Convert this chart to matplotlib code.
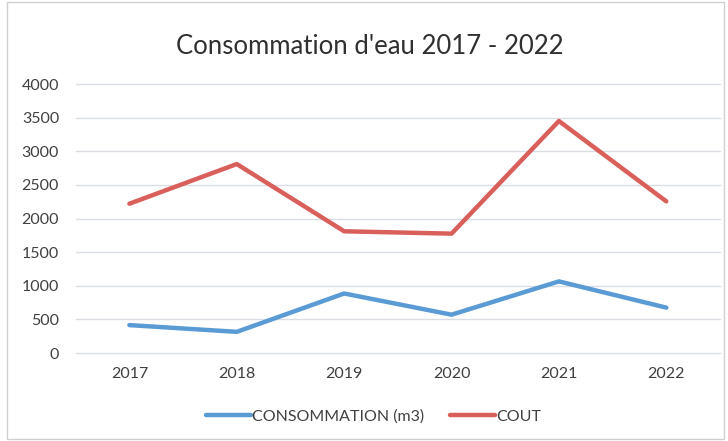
import matplotlib.pyplot as plt
import matplotlib.patches as patches

plt.rcParams['font.family'] = ['Lato', 'DejaVu Sans']

years = ['2017', '2018', '2019', '2020', '2021', '2022']
consommation = [415, 315, 885, 570, 1065, 675]
cout = [2220, 2810, 1810, 1775, 3450, 2255]
y_ticks = [0, 500, 1000, 1500, 2000, 2500, 3000, 3500, 4000]

fig = plt.figure(figsize=(7.28, 4.41), dpi=100)
ax = fig.add_axes([0.104, 0.1995, 0.885, 0.61])

x = range(len(years))
ax.plot(x, consommation, color='#5B9BD5', linewidth=3.2, label='CONSOMMATION (m3)',
        solid_capstyle='round')
ax.plot(x, cout, color='#D9605A', linewidth=3.2, label='COUT', solid_capstyle='round')

ax.set_xlim(-0.5, len(years) - 0.5)
ax.set_ylim(0, 4000)
ax.set_yticks(y_ticks)
ax.set_xticks(list(x))
ax.set_xticklabels(years)
ax.tick_params(axis='both', length=0, labelsize=11.5, colors='#404040')
ax.tick_params(axis='x', pad=10)
ax.tick_params(axis='y', pad=12)
ax.grid(axis='y', color='#D9DDE3', linewidth=1)
for gl in ax.get_ygridlines():
    gl.set_clip_on(False)
ax.set_axisbelow(True)
for s in ax.spines.values():
    s.set_visible(False)

fig.text(0.508, 0.895, "Consommation d'eau 2017 - 2022", ha='center', va='center',
         fontsize=18.5, color='#303030')

fig.legend(loc='center', bbox_to_anchor=(0.513, 0.055), ncol=2, frameon=False,
           fontsize=11.5, handlelength=2.8, handletextpad=0.1, columnspacing=1.6,
           labelcolor='#404040')

# light frame around the chart
fig.add_artist(patches.Rectangle((0.01, 0.005), 0.985, 0.99, transform=fig.transFigure,
                                 fill=False, edgecolor='#D0D0D0', linewidth=1))

plt.savefig('out.png', dpi=100)
plt.close()
